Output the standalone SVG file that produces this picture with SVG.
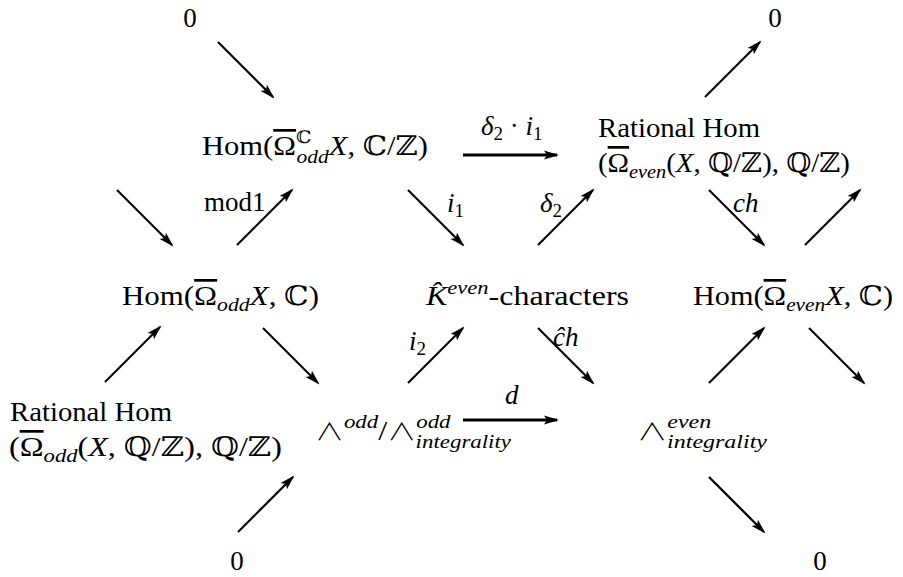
<svg xmlns="http://www.w3.org/2000/svg" width="903" height="577" viewBox="0 0 903 577">
<style>
.t{font-family:"Liberation Serif","DejaVu Serif",serif;font-size:27px;fill:#000}
.i{font-style:italic}
.s{font-size:19px}
.ss{font-size:17px}
.om{text-decoration:overline}
.w{font-family:"Noto Sans CJK JP","DejaVu Sans",sans-serif;font-weight:300;font-size:24px}
.a{stroke:#000;stroke-width:2.2;fill:none;marker-end:url(#ah)}
.h{stroke:#000;stroke-width:3;fill:none;marker-end:url(#ah)}
</style>
<defs>
<marker id="ah" markerUnits="userSpaceOnUse" markerWidth="16" markerHeight="12" refX="13" refY="5" orient="auto" overflow="visible">
<path d="M0,0.5 L15,5 L0,9.5 L3,5 Z" fill="#000"/>
</marker>
</defs>
<rect width="903" height="577" fill="#fff"/>
<g id="connectors">
<line class="a" x1="218" y1="42" x2="273" y2="97"/>
<line class="a" x1="705" y1="97" x2="760" y2="42"/>
<line class="h" x1="463" y1="155" x2="557" y2="155"/>
<line class="a" x1="117" y1="190" x2="172" y2="245"/>
<line class="a" x1="237" y1="245" x2="292" y2="190"/>
<line class="a" x1="408" y1="190" x2="463" y2="245"/>
<line class="a" x1="538" y1="245" x2="593" y2="190"/>
<line class="a" x1="709" y1="190" x2="764" y2="245"/>
<line class="a" x1="805" y1="245" x2="860" y2="190"/>
<line class="a" x1="105" y1="382" x2="160" y2="327"/>
<line class="a" x1="263" y1="328" x2="318" y2="383"/>
<line class="a" x1="408" y1="383" x2="463" y2="328"/>
<line class="a" x1="538" y1="328" x2="593" y2="383"/>
<line class="a" x1="709" y1="383" x2="764" y2="328"/>
<line class="a" x1="809" y1="328" x2="864" y2="383"/>
<line class="h" x1="463" y1="420" x2="557" y2="420"/>
<line class="a" x1="238" y1="532" x2="293" y2="477"/>
<line class="a" x1="709" y1="477" x2="764" y2="532"/>
</g>
<g id="zero-top-left"><text class="t" x="190" y="27" text-anchor="middle">0</text></g>
<g id="zero-top-right"><text class="t" x="775" y="27" text-anchor="middle">0</text></g>
<g id="hom-odd-C-CZ"><text class="t" x="202" y="155" textLength="226" lengthAdjust="spacingAndGlyphs">Hom(<tspan class="om">Ω</tspan><tspan class="ss" dy="-12">ℂ</tspan><tspan class="s i" dx="-13" dy="20">odd</tspan><tspan class="i" dy="-8">X</tspan>, ℂ/ℤ)</text></g>
<g id="label-d2i1"><text class="t" x="481" y="135"><tspan class="i">δ</tspan><tspan class="s" dy="5">2</tspan><tspan dy="-5"> · </tspan><tspan class="i">i</tspan><tspan class="s" dy="5">1</tspan></text></g>
<g id="rational-hom-even"><text class="t" x="598" y="137" textLength="162" lengthAdjust="spacingAndGlyphs">Rational Hom</text><text class="t" x="598" y="172" textLength="252" lengthAdjust="spacingAndGlyphs">(<tspan class="om">Ω</tspan><tspan class="s i" dy="6">even</tspan><tspan dy="-6">(</tspan><tspan class="i">X</tspan>, ℚ/ℤ), ℚ/ℤ)</text></g>
<g id="label-mod1"><text class="t" x="204" y="211">mod1</text></g>
<g id="label-i1"><text class="t" x="447" y="212"><tspan class="i">i</tspan><tspan class="s" dy="5">1</tspan></text></g>
<g id="label-d2"><text class="t" x="540" y="212"><tspan class="i">δ</tspan><tspan class="s" dy="5">2</tspan></text></g>
<g id="label-ch"><text class="t i" x="733" y="212">ch</text></g>
<g id="hom-odd-C"><text class="t" x="122" y="305" textLength="197" lengthAdjust="spacingAndGlyphs">Hom(<tspan class="om">Ω</tspan><tspan class="s i" dy="6">odd</tspan><tspan class="i" dy="-6">X</tspan>, ℂ)</text></g>
<g id="k-even-characters"><text class="t" x="426" y="305" textLength="203" lengthAdjust="spacingAndGlyphs"><tspan class="i">K̂</tspan><tspan class="s i" dy="-11">even</tspan><tspan dy="11">-characters</tspan></text></g>
<g id="hom-even-C"><text class="t" x="693" y="305" textLength="200" lengthAdjust="spacingAndGlyphs">Hom(<tspan class="om">Ω</tspan><tspan class="s i" dy="6">even</tspan><tspan class="i" dy="-6">X</tspan>, ℂ)</text></g>
<g id="label-i2"><text class="t" x="409" y="350"><tspan class="i">i</tspan><tspan class="s" dy="5">2</tspan></text></g>
<g id="label-chhat"><text class="t i" x="553" y="346">ĉh</text></g>
<g id="label-d"><text class="t i" x="505" y="404">d</text></g>
<g id="lambda-odd-quot"><text class="t" x="315" y="440" textLength="196" lengthAdjust="spacingAndGlyphs"><tspan class="w">∧</tspan><tspan class="s i" dy="-12">odd</tspan><tspan dy="12">/</tspan><tspan class="w">∧</tspan><tspan class="s i" dy="-12">odd</tspan><tspan class="s i" dx="-29" dy="20">integrality</tspan></text></g>
<g id="lambda-even-int"><text class="t" x="637" y="440" textLength="130" lengthAdjust="spacingAndGlyphs"><tspan class="w">∧</tspan><tspan class="s i" dy="-12">even</tspan><tspan class="s i" dx="-35" dy="20">integrality</tspan></text></g>
<g id="rational-hom-odd"><text class="t" x="10" y="421" textLength="162" lengthAdjust="spacingAndGlyphs">Rational Hom</text><text class="t" x="9" y="456" textLength="273" lengthAdjust="spacingAndGlyphs">(<tspan class="om">Ω</tspan><tspan class="s i" dy="6">odd</tspan><tspan dy="-6">(</tspan><tspan class="i">X</tspan>, ℚ/ℤ), ℚ/ℤ)</text></g>
<g id="zero-bottom-left"><text class="t" x="237" y="570" text-anchor="middle">0</text></g>
<g id="zero-bottom-right"><text class="t" x="820" y="570" text-anchor="middle">0</text></g>
</svg>
